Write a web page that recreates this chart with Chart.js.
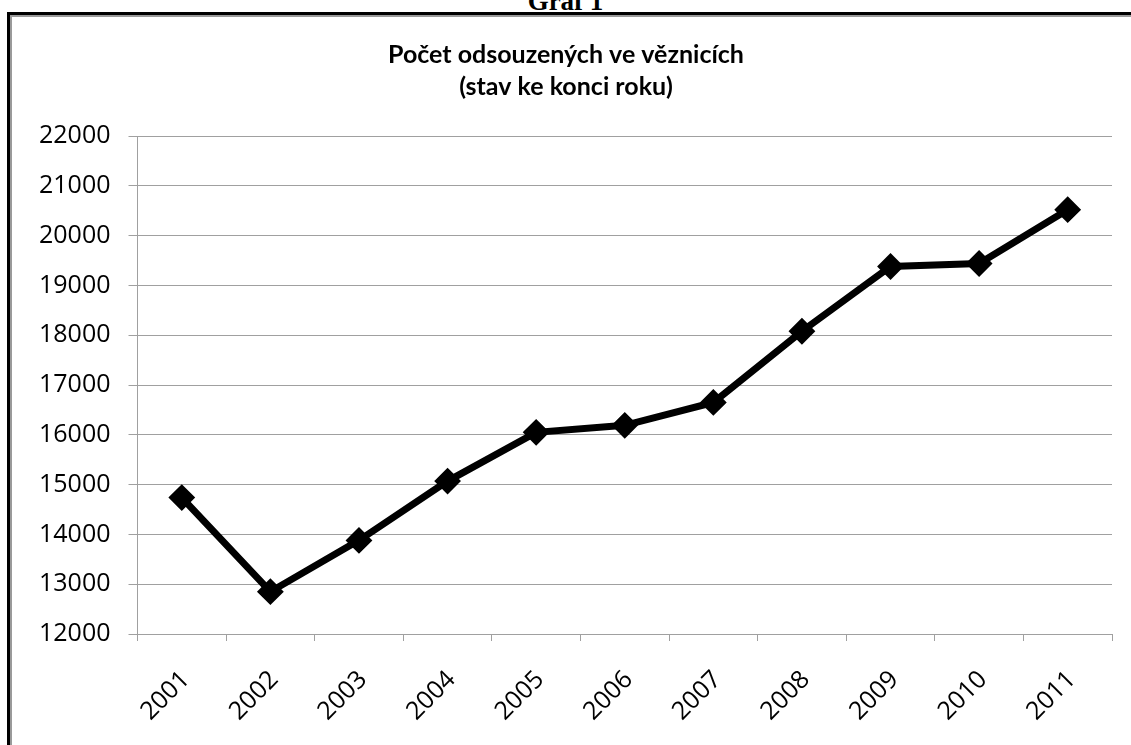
<!DOCTYPE html>
<html>
<head>
<meta charset="utf-8">
<script src="https://cdn.jsdelivr.net/npm/chart.js@4/dist/chart.umd.min.js"></script>
<style>
  html, body { margin: 0; padding: 0; background: #fff; overflow: hidden; }
  body { width: 1131px; height: 745px; position: relative; }
  #frame { position: absolute; left: 7px; top: 12px; width: 1200px; height: 800px;
           border-left: 3px solid #000; border-top: 3px solid #000; box-sizing: border-box; }
  #frame2 { position: absolute; left: 0; top: 0; right: 0; bottom: 0;
            border-left: 2px solid #9a9a9a; border-top: 2px solid #9a9a9a; }
  #graf { position: absolute; left: 0; width: 1131px; text-align: center; top: -12px;
          font-family: 'Liberation Serif', 'Times New Roman', serif; font-weight: bold;
          font-size: 27px; line-height: 27px; color: #000; }
  #wrap { position: absolute; left: 0; top: 0; width: 1131px; height: 745px; }
  canvas { display: block; }
</style>
</head>
<body>
<div id="graf">Graf 1</div>
<div id="frame"><div id="frame2"></div></div>
<div id="wrap"><canvas id="c" width="1131" height="745"></canvas></div>
<script>
const years = ['2001','2002','2003','2004','2005','2006','2007','2008','2009','2010','2011'];
const convicted = [14740, 12850, 13880, 15070, 16050, 16190, 16650, 18080, 19380, 19440, 20520];
const titleLines = ['Počet odsouzených ve věznicích', '(stav ke konci roku)'];
const yMin = 12000, yMax = 22000, yStep = 1000;

const gridColor = '#a0a0a0';
const tickFont = { family: "'Open Sans', sans-serif", size: 25 };

new Chart(document.getElementById('c'), {
  type: 'line',
  data: {
    labels: years,
    datasets: [{
      data: convicted,
      borderColor: '#000',
      backgroundColor: '#000',
      borderWidth: 7,
      pointStyle: 'rectRot',
      pointRadius: 12,
      pointBorderWidth: 2,
      pointBackgroundColor: '#000',
      pointBorderColor: '#000',
      tension: 0
    }]
  },
  options: {
    responsive: false,
    animation: false,
    devicePixelRatio: 1,
    layout: { padding: { left: 20, right: 19, top: 0, bottom: 0 } },
    plugins: {
      legend: { display: false },
      tooltip: { enabled: false },
      title: {
        display: true,
        text: titleLines,
        color: '#000',
        font: { family: "Lato, 'Open Sans', sans-serif", size: 25, weight: 'bold', lineHeight: 1.28 },
        padding: { top: 39, bottom: 33 }
      }
    },
    scales: {
      x: {
        type: 'category',
        offset: true,
        grid: { display: true, drawOnChartArea: false, drawTicks: true, tickLength: 7, offset: true, color: gridColor, lineWidth: 1 },
        border: { display: true, color: gridColor, width: 1 },
        ticks: { color: '#000', font: tickFont, maxRotation: 45, minRotation: 45, padding: 24, labelOffset: 4, autoSkip: false },
        afterFit: s => { s.height = 111; }
      },
      y: {
        min: yMin, max: yMax,
        grid: { color: gridColor, lineWidth: 1, drawTicks: true, tickLength: 9 },
        border: { display: true, color: gridColor, width: 1 },
        ticks: { stepSize: yStep, color: '#000', font: tickFont, padding: 18, callback: v => String(v) },
        afterFit: s => { s.width = 117.5; }
      }
    }
  }
});
</script>
</body>
</html>
